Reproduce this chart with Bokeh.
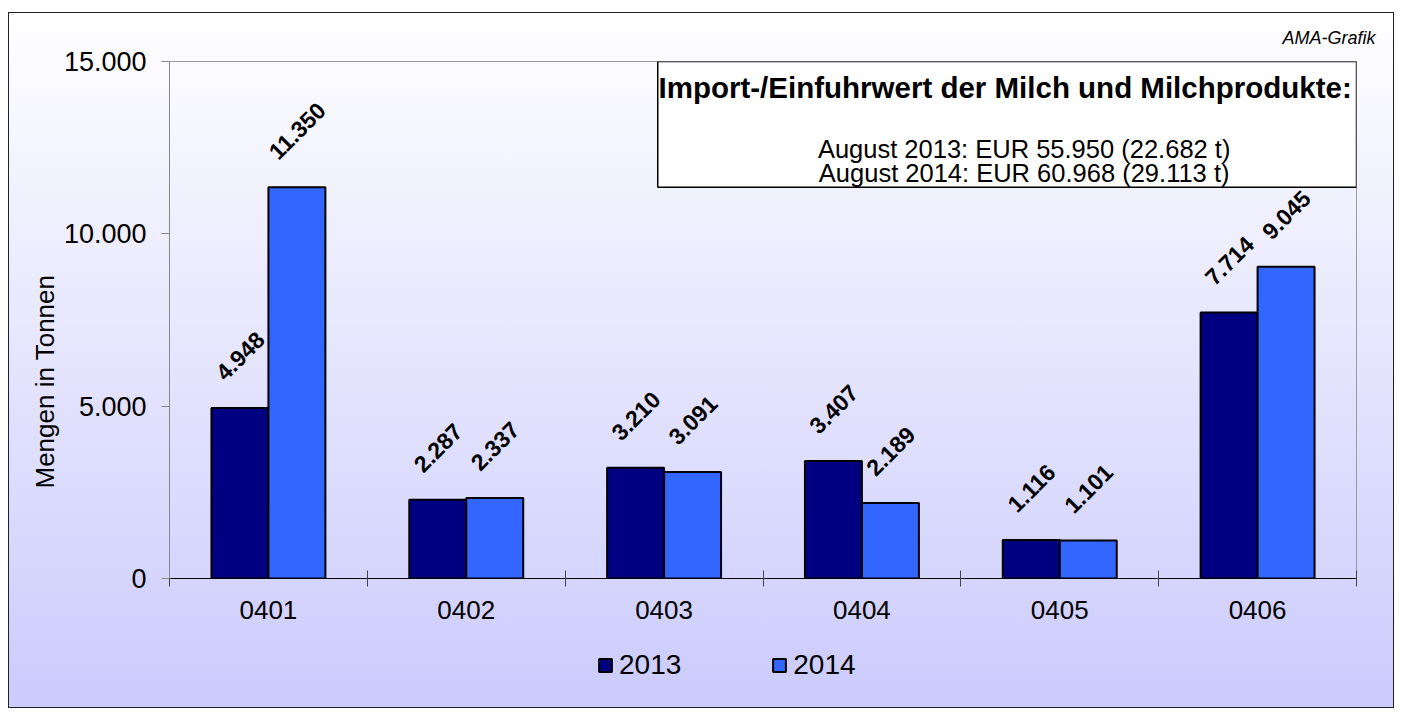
from bokeh.plotting import figure
from bokeh.models import (LinearAxis, FixedTicker, ColumnDataSource, LabelSet, Label,
                          BoxAnnotation, Legend, LegendItem, Title)
from bokeh.layouts import column
from bokeh.core.properties import value
from bokeh.embed import file_html
from bokeh.resources import INLINE
import numpy as np

# ---- data ----
categories = ["0401", "0402", "0403", "0404", "0405", "0406"]
values_2013 = [4948, 2287, 3210, 3407, 1116, 7714]
values_2014 = [11350, 2337, 3091, 2189, 1101, 9045]
series_names = ["2013", "2014"]
y_ticks = [0, 5000, 10000, 15000]
info_title = "Import-/Einfuhrwert der Milch und Milchprodukte:"
info_lines = ["August 2013: EUR 55.950 (22.682 t)", "August 2014: EUR 60.968 (29.113 t)"]
source_note = "AMA-Grafik"
y_label = "Mengen in Tonnen"

FONT = "Liberation Sans"
COL_2013 = "#000080"
COL_2014 = "#3366FF"


def fmt(v):
    return f"{v:,}".replace(",", ".")


n = len(categories)
centers = np.arange(n) + 0.5
bar_w = 0.288

# ---------------- main chart ----------------
p = figure(width=1386, height=630, x_range=(0, n), y_range=(0, 15000),
           output_backend="svg", toolbar_location=None,
           x_axis_type=None, y_axis_type=None,
           min_border_left=161, min_border_right=38, min_border_top=48, min_border_bottom=64)
p.background_fill_color = None
p.border_fill_color = None
p.outline_line_color = "#9a9a9a"
p.outline_line_width = 1
p.xgrid.visible = False
p.ygrid.visible = False

# source note as title (top right, italic)
p.title.text = source_note
p.title.align = "right"
p.title.text_font = FONT
p.title.text_font_size = "18px"
p.title.text_font_style = "italic"
p.title.text_color = "black"
p.title.offset = -19
p.title.standoff = 27

# y axis (ticks)
yaxis = LinearAxis(ticker=FixedTicker(ticks=y_ticks),
                   major_label_overrides={t: fmt(t) for t in y_ticks})
yaxis.axis_line_color = "#888888"
yaxis.major_tick_line_color = "#888888"
yaxis.major_tick_out = 8
yaxis.major_tick_in = 0
yaxis.minor_tick_line_color = None
yaxis.major_label_standoff = 15
yaxis.major_label_text_font = FONT
yaxis.major_label_text_font_size = "27px"
yaxis.major_label_text_color = "black"
p.add_layout(yaxis, "left")

# y axis title (vertical title on the left, placed lower like the original)
ytitle = Title(text=y_label, align="left", offset=90, standoff=2,
               text_font=FONT, text_font_size="26px", text_font_style="normal",
               text_color="black")
p.add_layout(ytitle, "left")

# x axis
xaxis = LinearAxis(ticker=FixedTicker(ticks=list(centers), minor_ticks=list(np.arange(n + 1))),
                   major_label_overrides={float(c): cat for c, cat in zip(centers, categories)})
xaxis.axis_line_color = "black"
xaxis.axis_line_width = 1
xaxis.major_tick_line_color = None
xaxis.major_tick_out = 0
xaxis.major_tick_in = 0
xaxis.minor_tick_line_color = "#444444"
xaxis.minor_tick_out = 8
xaxis.minor_tick_in = 8
xaxis.major_label_standoff = 14
xaxis.major_label_text_font = FONT
xaxis.major_label_text_font_size = "26px"
xaxis.major_label_text_color = "black"
p.add_layout(xaxis, "below")

# bars
src13 = ColumnDataSource(dict(x=centers - bar_w / 2, top=values_2013,
                              label=[fmt(v) for v in values_2013]))
src14 = ColumnDataSource(dict(x=centers + bar_w / 2, top=values_2014,
                              label=[fmt(v) for v in values_2014]))
r13 = p.vbar(x="x", top="top", width=bar_w, source=src13, fill_color=COL_2013,
             line_color="black", line_width=2)
r14 = p.vbar(x="x", top="top", width=bar_w, source=src14, fill_color=COL_2014,
             line_color="black", line_width=2)


# rotated value labels: offset so rotated box sits a fixed gap above bar
def offsets(labels, size=23):
    out = []
    for s in labels:
        w = sum(0.278 if ch == "." else 0.556 for ch in s) * size
        out.append(26 + (w + 0.72 * size) * 0.3535)
    return out


for src in (src13, src14):
    src.data["yoff"] = offsets(src.data["label"])
    ls = LabelSet(x="x", y="top", text="label", source=src, y_offset="yoff",
                  angle=45, angle_units="deg", text_align="center", text_baseline="middle",
                  text_font=value(FONT), text_font_size=value("23px"),
                  text_font_style=value("bold"), text_color=value("black"))
    p.add_layout(ls)

# info box
box = BoxAnnotation(left=2.468, right=n, top=15000, bottom=11350,
                    fill_color="white", fill_alpha=1, line_color="black",
                    line_alpha=1, line_width=1.5)
p.add_layout(box)
p.add_layout(Label(x=4.224, y=14247, text=info_title, text_align="center",
                   text_baseline="middle", text_font=FONT, text_font_size="29.5px",
                   text_font_style="bold", text_color="black"))
for yy, line in zip([12452, 11757], info_lines):
    p.add_layout(Label(x=4.32, y=yy, text=line, text_align="center",
                       text_baseline="middle", text_font=FONT, text_font_size="25.5px",
                       text_color="black"))

# ---------------- legend strip ----------------
pl = figure(width=1386, height=66, x_range=(0, 1), y_range=(0, 1),
            output_backend="svg", toolbar_location=None,
            x_axis_location=None, y_axis_location=None,
            min_border_left=0, min_border_right=0, min_border_top=0, min_border_bottom=0)
pl.background_fill_color = None
pl.border_fill_color = None
pl.outline_line_color = None
pl.xgrid.visible = False
pl.ygrid.visible = False
nan = float("nan")
l13 = pl.vbar(x=[nan], top=[nan], width=0.1, fill_color=COL_2013, line_color="black", line_width=2)
l14 = pl.vbar(x=[nan], top=[nan], width=0.1, fill_color=COL_2014, line_color="black", line_width=2)
legend = Legend(items=[LegendItem(label=series_names[0], renderers=[l13], index=0),
                       LegendItem(label=series_names[1], renderers=[l14], index=0)],
                orientation="horizontal", location=(428, 27),
                glyph_width=16, glyph_height=16, label_standoff=6, spacing=90,
                padding=0, margin=0, border_line_color=None, background_fill_alpha=0,
                label_text_font=FONT, label_text_font_size="28px", label_text_color="black")
pl.add_layout(legend)

lay = column(p, pl, spacing=0)
lay.margin = (12, 0, 0, 8)
lay.styles = {"background": "linear-gradient(to bottom, #ffffff 0%, #cbcbfd 100%)",
              "outline": "1.5px solid #222222", "outline-offset": "-1.5px"}

open("out.html", "w").write(file_html(lay, INLINE))
